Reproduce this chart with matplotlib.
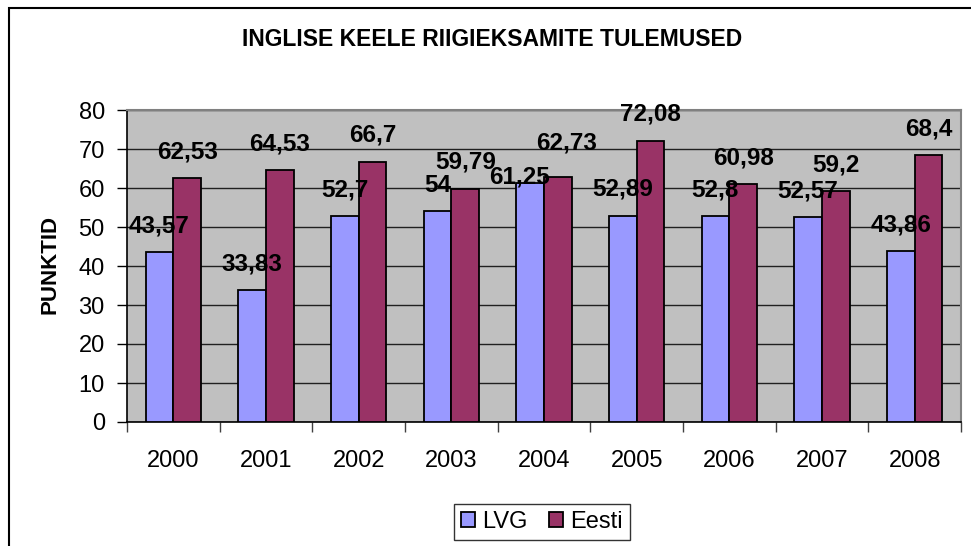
import numpy as np
import matplotlib.pyplot as plt
from matplotlib.patches import Rectangle

plt.rcParams['font.family'] = ['Liberation Sans', 'DejaVu Sans']

# Andmed
years = ['2000', '2001', '2002', '2003', '2004', '2005', '2006', '2007', '2008']
lvg = [43.57, 33.83, 52.7, 54, 61.25, 52.89, 52.8, 52.57, 43.86]
eesti = [62.53, 64.53, 66.7, 59.79, 62.73, 72.08, 60.98, 59.2, 68.4]
series_names = ['LVG', 'Eesti']
title = 'INGLISE KEELE RIIGIEKSAMITE TULEMUSED'
y_label = 'PUNKTID'
y_ticks = [0, 10, 20, 30, 40, 50, 60, 70, 80]

# käsitsi nihutatud sildid (pikslites, (dx, dy))
label_shift = {('LVG', 4): (-11, -20), ('Eesti', 4): (9, 8)}

W, H = 971, 546
fig = plt.figure(figsize=(W / 100, H / 100), dpi=100)
fig.patch.set_facecolor('white')

ax = fig.add_axes([127 / W, 1 - 422 / H, (961 - 127) / W, (422 - 110) / H])
ax.set_facecolor('#C0C0C0')

x = np.arange(len(years))
bw = 0.30
b1 = ax.bar(x - bw / 2, lvg, bw, color='#9999FF', edgecolor='black', linewidth=1.3,
            label=series_names[0], zorder=3)
b2 = ax.bar(x + bw / 2, eesti, bw, color='#993366', edgecolor='black', linewidth=1.3,
            label=series_names[1], zorder=3)

# Andmesildid
def fmt(v):
    return f"{v:g}".replace('.', ',')

for name, bars, vals in ((series_names[0], b1, lvg), (series_names[1], b2, eesti)):
    for i, (rect, v) in enumerate(zip(bars, vals)):
        dx, dy = label_shift.get((name, i), (0, 0))
        ax.annotate(fmt(v), (rect.get_x() + rect.get_width() / 2, v),
                    xytext=(dx * 0.72, 19 + dy * 0.72), textcoords='offset points',
                    ha='center', va='center', fontsize=17.5, fontweight='bold',
                    zorder=5)

ax.set_ylim(0, 80)
ax.set_xlim(-0.5, len(years) - 0.5)
ax.set_yticks(y_ticks)
ax.set_yticklabels([str(t) for t in y_ticks], fontsize=17)
ax.yaxis.grid(True, color='#202020', linewidth=1.0, zorder=1)
ax.set_axisbelow(True)
ax.tick_params(axis='y', length=7, width=1, direction='out', pad=9)

ax.set_xticks(x)
ax.set_xticklabels(years, fontsize=17)
ax.tick_params(axis='x', which='major', length=0, pad=20)
ax.set_xticks(np.arange(-0.5, len(years), 1), minor=True)
ax.tick_params(axis='x', which='minor', length=7, width=1, direction='out', color='#404040')

for s in ('left', 'bottom'):
    ax.spines[s].set_color('black')
    ax.spines[s].set_linewidth(1.2)
for s in ('top', 'right'):
    ax.spines[s].set_color('#808080')
    ax.spines[s].set_linewidth(1.5)

fig.text(50 / W, 1 - 264 / H, y_label, rotation=90, ha='center', va='center',
         fontsize=16, fontweight='bold')
fig.text(492 / W, 1 - 40 / H, title, ha='center', va='center',
         fontsize=16.5, fontweight='bold')

leg = fig.legend(handles=[b1, b2], loc='center', bbox_to_anchor=(542 / W, 1 - 522 / H),
                 ncol=2, fontsize=17, frameon=True, fancybox=False,
                 handlelength=0.6, handleheight=0.6, handletextpad=0.3,
                 columnspacing=0.9, borderpad=0.3)
leg.get_frame().set_edgecolor('black')
leg.get_frame().set_linewidth(1.0)

# Diagrammi raam
fig.patches.append(Rectangle((9 / W, -0.1), 1.2, 1.1 - 8 / H, transform=fig.transFigure,
                             fill=False, edgecolor='black', linewidth=1.5, clip_on=False))

fig.savefig('out.png', dpi=100)
